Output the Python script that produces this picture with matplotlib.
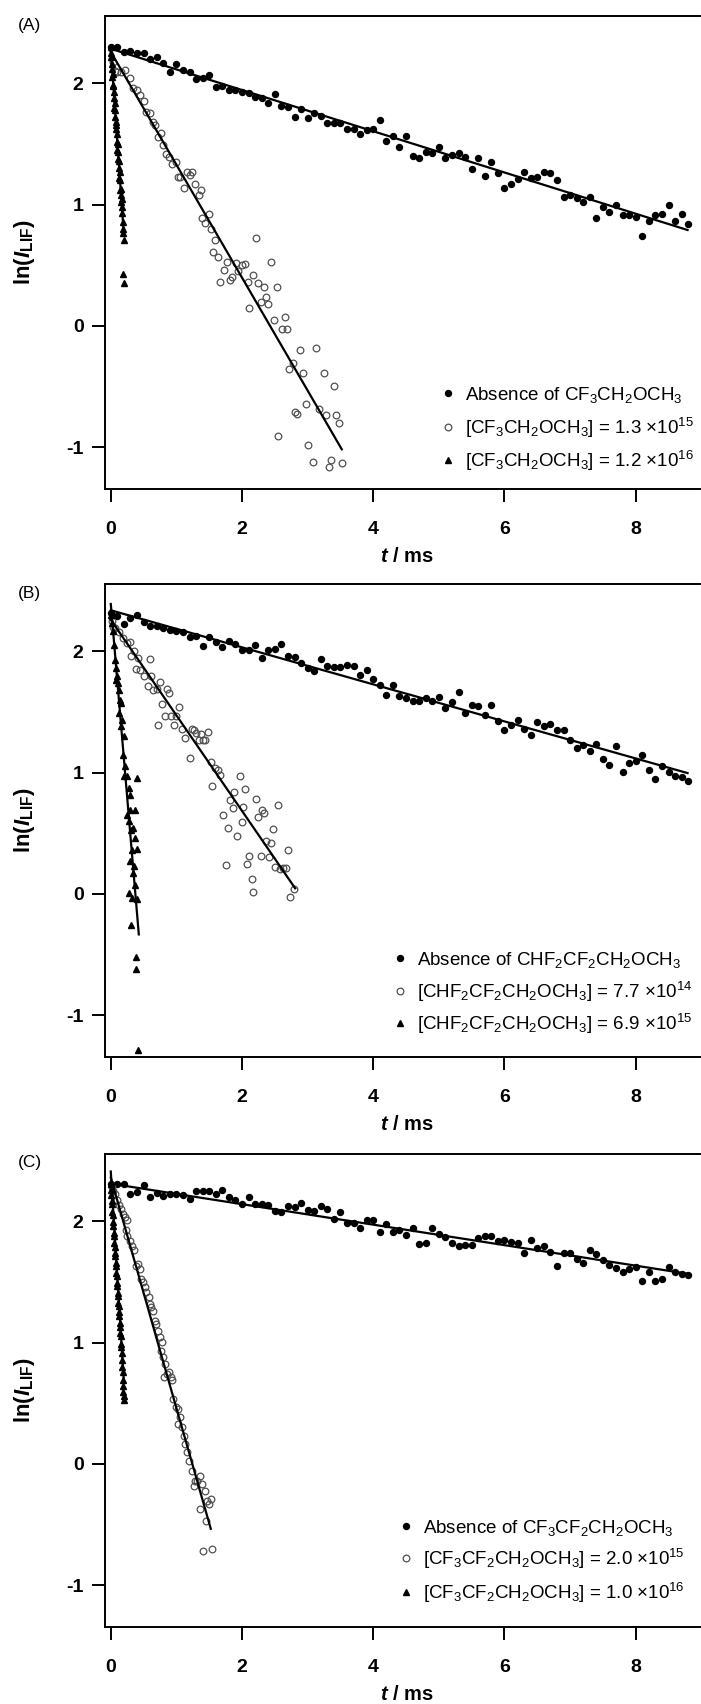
import numpy as np
import matplotlib.pyplot as plt

plt.rcParams['font.family'] = ['Liberation Sans', 'DejaVu Sans']
plt.rcParams['mathtext.fontset'] = 'custom'
plt.rcParams['mathtext.rm'] = 'Liberation Sans'
plt.rcParams['mathtext.it'] = 'Liberation Sans:italic'
plt.rcParams['mathtext.bf'] = 'Liberation Sans:bold'
plt.rcParams['mathtext.bfit'] = 'Liberation Sans:italic:bold'
plt.rcParams['mathtext.default'] = 'regular'
plt.rcParams['axes.unicode_minus'] = False

# sampling times of the "absence" decays (ms)
t_abs = [0.0, 0.1, 0.2, 0.3, 0.4, 0.5, 0.6, 0.7, 0.8, 0.9,
         1.0, 1.1, 1.2, 1.3, 1.4, 1.5, 1.6, 1.7, 1.8, 1.9,
         2.0, 2.1, 2.2, 2.3, 2.4, 2.5, 2.6, 2.7, 2.8, 2.9,
         3.0, 3.1, 3.2, 3.3, 3.4, 3.5, 3.6, 3.7, 3.8, 3.9,
         4.0, 4.1, 4.2, 4.3, 4.4, 4.5, 4.6, 4.7, 4.8, 4.9,
         5.0, 5.1, 5.2, 5.3, 5.4, 5.5, 5.6, 5.7, 5.8, 5.9,
         6.0, 6.1, 6.2, 6.3, 6.4, 6.5, 6.6, 6.7, 6.8, 6.9,
         7.0, 7.1, 7.2, 7.3, 7.4, 7.5, 7.6, 7.7, 7.8, 7.9,
         8.0, 8.1, 8.2, 8.3, 8.4, 8.5, 8.6, 8.7, 8.8]

##PANEL A : CF3CH2OCH3##
a_abs = [2.303, 2.297, 2.262, 2.270, 2.248, 2.248, 2.198, 2.220, 2.165, 2.091,
         2.157, 2.110, 2.091, 2.036, 2.042, 2.069, 1.973, 1.979, 1.946, 1.946,
         1.932, 1.918, 1.885, 1.882, 1.841, 1.910, 1.814, 1.808, 1.726, 1.786,
         1.717, 1.753, 1.731, 1.671, 1.671, 1.676, 1.624, 1.621, 1.583, 1.616,
         1.624, 1.698, 1.528, 1.566, 1.478, 1.566, 1.401, 1.388, 1.437, 1.423,
         1.478, 1.382, 1.410, 1.423, 1.390, 1.292, 1.388, 1.239, 1.355, 1.264,
         1.135, 1.171, 1.209, 1.267, 1.217, 1.226, 1.272, 1.259, 1.204, 1.066,
         1.080, 1.058, 1.019, 1.066, 0.888, 0.978, 0.943, 0.998, 0.915, 0.915,
         0.901, 0.745, 0.868, 0.915, 0.921, 0.998, 0.868, 0.923, 0.838]

a_open_t = [0.035, 0.065, 0.095, 0.153, 0.211, 0.287, 0.346, 0.404, 0.445, 0.503,
            0.532, 0.591, 0.649, 0.678, 0.719, 0.766, 0.795, 0.836, 0.882, 0.929,
            0.999, 1.028, 1.057, 1.116, 1.162, 1.203, 1.232, 1.291, 1.337, 1.378,
            1.396, 1.437, 1.495, 1.524, 1.553, 1.594, 1.641, 1.670, 1.729, 1.769,
            1.816, 1.845, 1.903, 1.933, 2.003, 2.049, 2.096, 2.108, 2.166, 2.207,
            2.242, 2.283, 2.329, 2.364, 2.399, 2.446, 2.487, 2.528, 2.551, 2.604,
            2.650, 2.691, 2.720, 2.778, 2.808, 2.831, 2.878, 2.936, 2.971, 3.000,
            3.088, 3.128, 3.169, 3.257, 3.286, 3.321, 3.362, 3.403, 3.438, 3.479,
            3.520]
a_open = [2.180, 2.100, 2.097, 2.091, 2.110, 2.042, 1.959, 1.946, 1.904, 1.858,
          1.767, 1.753, 1.685, 1.657, 1.561, 1.588, 1.492, 1.418, 1.396, 1.336,
          1.355, 1.231, 1.226, 1.135, 1.272, 1.245, 1.272, 1.171, 1.080, 1.121,
          0.888, 0.846, 0.923, 0.797, 0.613, 0.709, 0.572, 0.365, 0.462, 0.530,
          0.379, 0.401, 0.517, 0.456, 0.503, 0.511, 0.365, 0.146, 0.420, 0.723,
          0.352, 0.201, 0.319, 0.236, 0.179, 0.530, 0.049, 0.319, -0.907, -0.027,
          0.071, -0.027, -0.357, -0.308, -0.706, -0.725, -0.198, -0.390, -0.646, -0.984,
          -1.121, -0.184, -0.687, -0.390, -0.734, -1.165, -1.105, -0.495, -0.731, -0.802,
          -1.132]

a_tri_t = [0.000, 0.005, 0.010, 0.015, 0.020, 0.025, 0.030, 0.035, 0.040, 0.045,
           0.050, 0.055, 0.060, 0.065, 0.070, 0.075, 0.080, 0.085, 0.090, 0.095,
           0.100, 0.105, 0.110, 0.115, 0.120, 0.125, 0.130, 0.135, 0.140, 0.145,
           0.150, 0.155, 0.160, 0.165, 0.170, 0.175, 0.180, 0.185, 0.190, 0.195,
           0.190, 0.195]
a_tri = [2.30, 2.22, 2.25, 2.12, 2.16, 2.05, 2.08, 1.98, 1.99, 1.88,
         1.93, 1.80, 1.84, 1.72, 1.78, 1.68, 1.62, 1.66, 1.52, 1.58,
         1.45, 1.50, 1.38, 1.43, 1.30, 1.36, 1.22, 1.27, 1.12, 1.20,
         1.08, 1.13, 1.02, 1.05, 0.93, 0.98, 0.86, 0.80, 0.77, 0.71,
         0.43, 0.35]

# fits: intercept, slope (1/ms), last time (ms)
a_fits = [(2.285, -0.170, 8.79), (2.26, -0.931, 3.52), (2.28, -7.66, 0.198)]
a_labels = ['Absence of CF$_3$CH$_2$OCH$_3$',
            '[CF$_3$CH$_2$OCH$_3$] = 1.3 \u00d710$^{15}$',
            '[CF$_3$CH$_2$OCH$_3$] = 1.2 \u00d710$^{16}$']

##PANEL B : CHF2CF2CH2OCH3##
b_abs = [2.316, 2.288, 2.228, 2.274, 2.302, 2.239, 2.206, 2.206, 2.192, 2.178,
         2.165, 2.156, 2.118, 2.129, 2.041, 2.118, 2.074, 2.036, 2.082, 2.063,
         2.013, 2.013, 2.049, 1.944, 2.008, 2.019, 2.060, 1.964, 1.950, 1.903,
         1.862, 1.834, 1.936, 1.876, 1.870, 1.870, 1.889, 1.881, 1.807, 1.843,
         1.774, 1.724, 1.642, 1.724, 1.628, 1.614, 1.587, 1.587, 1.614, 1.587,
         1.620, 1.532, 1.579, 1.661, 1.491, 1.559, 1.551, 1.477, 1.559, 1.422,
         1.353, 1.394, 1.430, 1.359, 1.312, 1.414, 1.386, 1.403, 1.353, 1.353,
         1.271, 1.202, 1.224, 1.174, 1.238, 1.111, 1.064, 1.221, 1.001, 1.078,
         1.092, 1.147, 1.023, 0.946, 1.051, 1.001, 0.974, 0.963, 0.927]

b_open_t = [0.020, 0.040, 0.066, 0.124, 0.182, 0.241, 0.287, 0.311, 0.357, 0.387,
            0.416, 0.445, 0.503, 0.562, 0.591, 0.620, 0.649, 0.707, 0.725, 0.754,
            0.777, 0.824, 0.853, 0.882, 0.911, 0.970, 0.999, 1.046, 1.087, 1.127,
            1.203, 1.232, 1.262, 1.302, 1.337, 1.378, 1.408, 1.437, 1.478, 1.524,
            1.536, 1.582, 1.641, 1.670, 1.711, 1.758, 1.787, 1.816, 1.857, 1.874,
            1.921, 1.962, 2.003, 2.020, 2.049, 2.079, 2.108, 2.154, 2.166, 2.207,
            2.236, 2.283, 2.312, 2.341, 2.370, 2.411, 2.440, 2.469, 2.504, 2.545,
            2.575, 2.621, 2.673, 2.703, 2.738, 2.796]
b_open = [2.250, 2.200, 2.192, 2.156, 2.109, 2.068, 2.074, 1.958, 1.999, 1.854,
          1.944, 1.848, 1.793, 1.711, 1.936, 1.799, 1.683, 1.689, 1.394, 1.746,
          1.565, 1.469, 1.689, 1.656, 1.463, 1.394, 1.469, 1.540, 1.359, 1.284,
          1.119, 1.359, 1.353, 1.326, 1.265, 1.320, 1.271, 1.271, 1.334, 1.084,
          0.886, 1.037, 1.023, 0.982, 0.652, 0.239, 0.542, 0.776, 0.707, 0.836,
          0.481, 0.974, 0.589, 0.712, 0.864, 0.248, 0.314, 0.121, 0.019, 0.781,
          0.633, 0.314, 0.693, 0.666, 0.432, 0.303, 0.418, 0.534, 0.220, 0.734,
          0.204, 0.212, 0.212, 0.363, -0.028, 0.039]

b_tri_t = [0.007, 0.019, 0.036, 0.054, 0.066, 0.077, 0.095, 0.077, 0.112, 0.124,
           0.136, 0.153, 0.124, 0.171, 0.153, 0.194, 0.182, 0.211, 0.194, 0.404,
           0.241, 0.270, 0.287, 0.299, 0.241, 0.369, 0.270, 0.311, 0.346, 0.369,
           0.328, 0.398, 0.299, 0.357, 0.346, 0.369, 0.270, 0.328, 0.404, 0.311,
           0.387, 0.387, 0.416]
b_tri = [2.302, 2.233, 2.164, 2.054, 1.931, 1.862, 1.793, 1.766, 1.738, 1.683,
         1.601, 1.573, 1.491, 1.436, 1.381, 1.298, 1.147, 1.051, 0.968, 0.954,
         0.968, 0.872, 0.817, 0.693, 0.652, 0.693, 0.597, 0.528, 0.542, 0.459,
         0.363, 0.369, 0.267, 0.226, 0.171, 0.074, 0.006, -0.036, -0.044, -0.256,
         -0.517, -0.622, -1.287]

b_fits = [(2.338, -0.1527, 8.79), (2.26, -0.788, 2.81), (2.39, -6.38, 0.427)]
b_labels = ['Absence of CHF$_2$CF$_2$CH$_2$OCH$_3$',
            '[CHF$_2$CF$_2$CH$_2$OCH$_3$] = 7.7 \u00d710$^{14}$',
            '[CHF$_2$CF$_2$CH$_2$OCH$_3$] = 6.9 \u00d710$^{15}$']

##PANEL C : CF3CF2CH2OCH3##
c_abs = [2.309, 2.304, 2.304, 2.227, 2.240, 2.296, 2.199, 2.232, 2.205, 2.227,
         2.227, 2.213, 2.180, 2.249, 2.249, 2.249, 2.227, 2.260, 2.199, 2.177,
         2.144, 2.199, 2.144, 2.139, 2.136, 2.084, 2.075, 2.122, 2.117, 2.150,
         2.095, 2.084, 2.122, 2.103, 2.021, 2.075, 1.983, 1.983, 1.946, 2.013,
         2.013, 1.910, 1.975, 1.910, 1.930, 1.888, 1.943, 1.814, 1.822, 1.946,
         1.896, 1.869, 1.819, 1.800, 1.808, 1.808, 1.863, 1.875, 1.875, 1.836,
         1.842, 1.828, 1.819, 1.737, 1.847, 1.781, 1.795, 1.745, 1.635, 1.737,
         1.737, 1.690, 1.654, 1.764, 1.726, 1.682, 1.643, 1.616, 1.580, 1.605,
         1.627, 1.511, 1.580, 1.506, 1.525, 1.621, 1.580, 1.566, 1.561]

c_open_t = [0.020, 0.040, 0.066, 0.095, 0.124, 0.153, 0.182, 0.211, 0.229, 0.241,
            0.252, 0.287, 0.328, 0.357, 0.387, 0.416, 0.445, 0.462, 0.486, 0.521,
            0.544, 0.579, 0.603, 0.620, 0.649, 0.678, 0.696, 0.719, 0.754, 0.766,
            0.777, 0.795, 0.812, 0.824, 0.853, 0.882, 0.911, 0.929, 0.952, 0.987,
            1.028, 1.028, 1.057, 1.087, 1.116, 1.127, 1.162, 1.186, 1.232, 1.262,
            1.279, 1.320, 1.361, 1.361, 1.396, 1.408, 1.437, 1.455, 1.466, 1.495,
            1.524, 1.536]
c_open = [2.280, 2.250, 2.227, 2.172, 2.130, 2.103, 2.062, 2.034, 1.924, 2.007,
          1.875, 1.841, 1.800, 1.759, 1.635, 1.649, 1.607, 1.525, 1.498, 1.456,
          1.415, 1.374, 1.318, 1.291, 1.263, 1.181, 1.153, 1.098, 1.043, 0.933,
          1.002, 0.878, 0.713, 0.823, 0.740, 0.754, 0.713, 0.691, 0.534, 0.465,
          0.451, 0.328, 0.383, 0.300, 0.231, 0.162, 0.094, 0.025, -0.058, -0.182,
          -0.140, -0.140, -0.099, -0.374, -0.168, -0.718, -0.223, -0.471, -0.306, -0.333,
          -0.292, -0.705]

c_tri_t = [0.000, 0.005, 0.010, 0.015, 0.020, 0.025, 0.030, 0.035, 0.040, 0.045,
           0.050, 0.055, 0.060, 0.065, 0.070, 0.075, 0.080, 0.085, 0.090, 0.095,
           0.100, 0.105, 0.110, 0.115, 0.120, 0.125, 0.130, 0.135, 0.140, 0.145,
           0.150, 0.155, 0.160, 0.165, 0.170, 0.175, 0.180, 0.185, 0.190, 0.190,
           0.195, 0.195]
c_tri = [2.31, 2.26, 2.22, 2.17, 2.14, 2.08, 2.05, 1.99, 1.96, 1.90,
         1.88, 1.82, 1.79, 1.74, 1.71, 1.66, 1.63, 1.57, 1.55, 1.49,
         1.47, 1.41, 1.38, 1.33, 1.30, 1.25, 1.22, 1.16, 1.13, 1.08,
         1.05, 0.99, 0.96, 0.91, 0.86, 0.80, 0.76, 0.69, 0.64, 0.59,
         0.56, 0.53]

c_fits = [(2.31, -0.0845, 8.79), (2.36, -1.90, 1.524), (2.41, -8.71, 0.198)]
c_labels = ['Absence of CF$_3$CF$_2$CH$_2$OCH$_3$',
            '[CF$_3$CF$_2$CH$_2$OCH$_3$] = 2.0 \u00d710$^{15}$',
            '[CF$_3$CF$_2$CH$_2$OCH$_3$] = 1.0 \u00d710$^{16}$']

abs_style = dict(marker='o', ls='none', color='black', ms=4.3)
open_style = dict(marker='o', ls='none', mfc='none', mec='#505050', mew=0.9, ms=4.8)
tri_style = dict(marker='^', ls='none', color='black', ms=5.0)


def draw_panel(ax, y_abs, t_open, y_open, t_tri, y_tri, fits, labels, leg_x, leg_y):
    ax.plot(t_abs, y_abs, **abs_style)
    ax.plot(t_open, y_open, **open_style)
    ax.plot(t_tri, y_tri, **tri_style)
    for b, m, t_end in fits:
        ax.plot([0, t_end], [b, b + m * t_end], color='black', lw=1.6, zorder=3)

    ax.set_xlim(-0.088, 8.98)
    ax.set_ylim(-1.345, 2.555)
    ax.set_xticks([0, 2, 4, 6, 8])
    ax.set_yticks([-1, 0, 1, 2])
    ax.spines['right'].set_visible(False)
    for s in ['left', 'bottom', 'top']:
        ax.spines[s].set_linewidth(1.4)
    ax.tick_params(direction='out', length=9.4, width=1.4, labelsize=14)
    ax.tick_params(axis='x', pad=13.5)
    ax.tick_params(axis='y', pad=6.0)
    for lab in ax.get_xticklabels() + ax.get_yticklabels():
        lab.set_fontweight('bold')

    ax.set_xlabel('$\\mathbfit{t}$ / ms', fontsize=14.5, fontweight='bold')
    ax.xaxis.set_label_coords(0.507, -0.123)
    ax.set_ylabel('ln($\\mathbfit{I}_{\\mathbf{LIF}}$)', fontsize=16, fontweight='bold')
    ax.yaxis.set_label_coords(-0.114, 0.5)

    # key drawn by hand so the rows stay evenly spaced
    styles = [abs_style, open_style, tri_style]
    for st, lab, yy in zip(styles, labels, leg_y):
        ax.plot([leg_x[0]], [yy], transform=ax.transAxes, clip_on=False, **st)
        ax.text(leg_x[1], yy - 0.0145, lab, transform=ax.transAxes,
                fontsize=13.5, va='baseline', ha='left')


fig = plt.figure(figsize=(7.01, 17.04), dpi=100)

ax_a = fig.add_axes([0.1498, 0.7130, 0.8488, 0.2776])
draw_panel(ax_a, a_abs, a_open_t, a_open, a_tri_t, a_tri, a_fits, a_labels,
           (0.5765, 0.6050), (0.2023, 0.1318, 0.0613))

ax_b = fig.add_axes([0.1498, 0.3797, 0.8488, 0.2776])
draw_panel(ax_b, b_abs, b_open_t, b_open, b_tri_t, b_tri, b_fits, b_labels,
           (0.4965, 0.5250), (0.210, 0.140, 0.071))

ax_c = fig.add_axes([0.1498, 0.0452, 0.8488, 0.2776])
draw_panel(ax_c, c_abs, c_open_t, c_open, c_tri_t, c_tri, c_fits, c_labels,
           (0.5060, 0.5350), (0.214, 0.145, 0.0742))

fig.text(18 / 701, 1 - 25.5 / 1704, '(A)', fontsize=12.5, va='center', ha='left')
fig.text(18 / 701, 1 - 593.5 / 1704, '(B)', fontsize=12.5, va='center', ha='left')
fig.text(18 / 701, 1 - 1162.5 / 1704, '(C)', fontsize=12.5, va='center', ha='left')

fig.savefig('out.png', dpi=100)
